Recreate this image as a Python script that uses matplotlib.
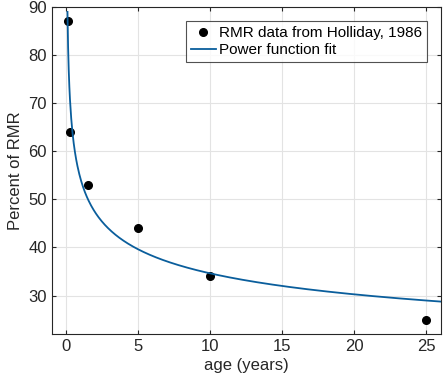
import numpy as np
import matplotlib
matplotlib.use("Agg")
import matplotlib.pyplot as plt

plt.rcParams['font.family'] = ['Liberation Sans', 'DejaVu Sans']

# RMR data (Holliday, 1986)
age = [0.1, 0.25, 1.5, 5, 10, 25]
rmr = [87, 64, 53, 44, 34, 25]

# power function fit parameters: y = a * x^b
fit_a = 54.1
fit_b = -0.194
fit_x = np.linspace(0.077, 26, 600)
fit_y = fit_a * fit_x ** fit_b

fig = plt.figure(figsize=(4.48, 3.84), dpi=100)
ax = fig.add_axes([0.116, 0.13, 0.868, 0.852])

ax.plot(age, rmr, 'o', color='black', markersize=5.5, label='RMR data from Holliday, 1986')
ax.plot(fit_x, fit_y, '-', color='#0a5e9c', linewidth=1.3, label='Power function fit')

ax.set_xlim(-1, 26)
ax.set_ylim(22, 90)
ax.set_xticks([0, 5, 10, 15, 20, 25])
ax.set_yticks([30, 40, 50, 60, 70, 80, 90])
ax.grid(True, color='#e3e3e3', linewidth=0.8)
ax.set_axisbelow(True)
ax.tick_params(direction='in', top=True, right=True, labelsize=12, colors='#262626',
               length=3, width=0.8)
for s in ax.spines.values():
    s.set_color('#262626')
    s.set_linewidth(0.8)

ax.set_xlabel('age (years)', fontsize=12, color='#262626', labelpad=3)
ax.set_ylabel('Percent of RMR', fontsize=12, color='#262626', labelpad=4)

leg = ax.legend(loc='upper right', fontsize=11, frameon=True, fancybox=False,
                edgecolor='#262626', borderpad=0.35, handlelength=1.6,
                handletextpad=0.2, labelspacing=0.2, borderaxespad=0.9)
leg.get_frame().set_linewidth(0.8)

fig.savefig('out.png', dpi=100)
